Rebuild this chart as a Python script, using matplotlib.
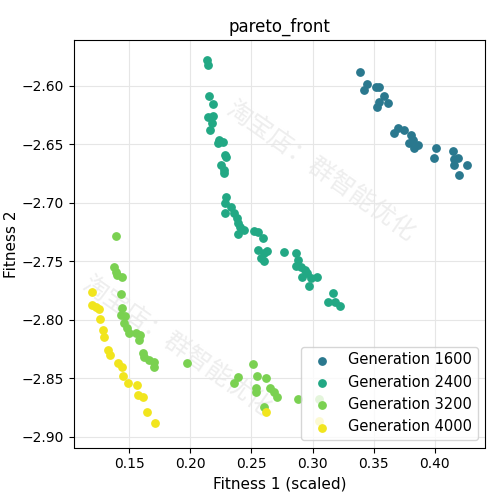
import matplotlib.pyplot as plt
import numpy as np

plt.rcParams['font.family'] = ['DejaVu Sans', 'Noto Sans CJK SC']

g1600_x = [0.3386, 0.3443, 0.3418, 0.3516, 0.354, 0.3582, 0.354, 0.3614, 0.3524, 0.3663, 0.3696, 0.3745,
           0.3802, 0.3818, 0.3786, 0.3859, 0.3827, 0.4006, 0.399, 0.4145, 0.4153, 0.4186, 0.4153, 0.4259, 0.4194]
g1600_y = [-2.5885, -2.599, -2.604, -2.601, -2.601, -2.609, -2.614, -2.615, -2.618, -2.640, -2.636, -2.638,
           -2.642, -2.646, -2.649, -2.651, -2.653, -2.653, -2.662, -2.656, -2.663, -2.662, -2.668, -2.668, -2.676]

g2400_x = [0.2137, 0.2145, 0.2153, 0.2186, 0.2145, 0.2186, 0.2178, 0.2161, 0.2235, 0.2267, 0.2227, 0.2284,
           0.2292, 0.2251, 0.2276, 0.2276, 0.2292, 0.2284, 0.2333, 0.2357, 0.2284, 0.2382, 0.239, 0.2406,
           0.239, 0.2439, 0.252, 0.2553, 0.2594, 0.2553, 0.2602, 0.2627, 0.2578, 0.2602, 0.2765, 0.2863,
           0.288, 0.2904, 0.2863, 0.2937, 0.2953, 0.2986, 0.3035, 0.2912, 0.2969, 0.3167, 0.3127, 0.3184, 0.3224]
g2400_y = [-2.578, -2.582, -2.609, -2.616, -2.627, -2.626, -2.632, -2.638, -2.646, -2.648, -2.649, -2.659,
           -2.661, -2.668, -2.672, -2.675, -2.695, -2.700, -2.704, -2.709, -2.709, -2.713, -2.717, -2.721,
           -2.727, -2.723, -2.724, -2.725, -2.730, -2.740, -2.743, -2.741, -2.747, -2.750, -2.742, -2.743,
           -2.749, -2.755, -2.754, -2.757, -2.760, -2.764, -2.763, -2.763, -2.771, -2.777, -2.785, -2.785, -2.788]

g3200_x = [0.1394, 0.1378, 0.1394, 0.1402, 0.1443, 0.1435, 0.1443, 0.1435, 0.1467, 0.1459, 0.1484, 0.15,
           0.1557, 0.159, 0.1582, 0.1614, 0.1622, 0.1663, 0.1704, 0.1704, 0.1973, 0.2512, 0.239, 0.2357,
           0.2545, 0.2537, 0.2537, 0.2618, 0.2651, 0.2684, 0.2708, 0.2602, 0.288, 0.3051]
g3200_y = [-2.728, -2.755, -2.759, -2.762, -2.763, -2.778, -2.790, -2.796, -2.797, -2.803, -2.807, -2.811,
           -2.811, -2.813, -2.817, -2.828, -2.832, -2.834, -2.836, -2.840, -2.837, -2.838, -2.849, -2.854,
           -2.848, -2.858, -2.862, -2.850, -2.858, -2.862, -2.866, -2.874, -2.868, -2.868]

g4000_x = [0.1198, 0.1198, 0.1231, 0.1255, 0.1263, 0.1288, 0.1296, 0.1329, 0.1345, 0.141, 0.1443, 0.1451,
           0.1492, 0.1565, 0.1573, 0.1614, 0.1647, 0.1712, 0.2618, 0.3051]
g4000_y = [-2.776, -2.787, -2.789, -2.791, -2.799, -2.809, -2.815, -2.826, -2.830, -2.837, -2.840, -2.848,
           -2.854, -2.856, -2.864, -2.866, -2.879, -2.888, -2.879, -2.886]

series = [('Generation 1600', g1600_x, g1600_y), ('Generation 2400', g2400_x, g2400_y),
          ('Generation 3200', g3200_x, g3200_y), ('Generation 4000', g4000_x, g4000_y)]
cols = plt.cm.viridis([0.4, 0.6, 0.8, 0.98])

fig, ax = plt.subplots(figsize=(5, 5), dpi=100)
for (lab, xs, ys), c in zip(series, cols):
    ax.scatter(xs, ys, s=28, color=c, label=lab, zorder=3)

# watermark
for (wx, wy) in [(0.25, 0.25), (0.6, 0.68)]:
    ax.text(wx, wy, '淘宝店：群智能优化', transform=ax.transAxes, rotation=-35, fontsize=18,
            color='#dddddd', alpha=0.5, ha='center', va='center', clip_on=True,
            family=['Noto Sans CJK SC', 'DejaVu Sans'], zorder=1)

ax.set_xlim(0.105, 0.441)
ax.set_ylim(-2.909, -2.561)
ax.set_xticks([0.15, 0.20, 0.25, 0.30, 0.35, 0.40])
ax.grid(True, color='#e6e6e6')
ax.set_xlabel('Fitness 1 (scaled)', fontsize=11)
ax.set_ylabel('Fitness 2', fontsize=11, labelpad=2)
ax.set_title('pareto_front', fontsize=12)
ax.legend(loc='lower right', fontsize=10.5)
fig.subplots_adjust(left=0.148, right=0.97, bottom=0.105, top=0.92)
fig.savefig('out.png')
